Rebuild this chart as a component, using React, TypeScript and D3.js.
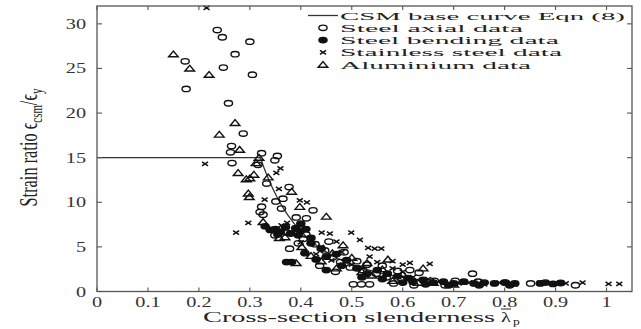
import * as d3 from "d3";

// values, [slenderness, strain ratio]
const steelAxial: [number, number][] = [
  [0.236, 29.3], [0.246, 28.5], [0.3, 28.0], [0.271, 26.6], [0.173, 25.8], [0.248, 25.1],
  [0.305, 24.3], [0.175, 22.7], [0.258, 21.1], [0.287, 17.7], [0.264, 16.3], [0.262, 15.6],
  [0.323, 15.5], [0.354, 15.2], [0.349, 14.7], [0.265, 14.4], [0.316, 14.2], [0.333, 12.1],
  [0.377, 11.7], [0.351, 10.1], [0.365, 10.4], [0.323, 9.5], [0.32, 8.9], [0.326, 8.6],
  [0.362, 9.3], [0.424, 9.1], [0.391, 8.3], [0.411, 8.2], [0.349, 6.3], [0.372, 6.6],
  [0.378, 4.8], [0.405, 5.9], [0.428, 5.3], [0.447, 4.6], [0.462, 3.8], [0.478, 3.3],
  [0.497, 2.7], [0.437, 2.9], [0.468, 2.2], [0.521, 2.4], [0.548, 2.0], [0.568, 1.6],
  [0.598, 1.4], [0.503, 0.8], [0.519, 0.8], [0.535, 0.8], [0.614, 2.4], [0.632, 2.1],
  [0.662, 1.2], [0.737, 2.0], [0.703, 1.2], [0.748, 1.1], [0.802, 1.0], [0.851, 0.9],
  [0.939, 0.7], [0.582, 0.9], [0.622, 0.7], [0.683, 0.7], [0.41, 6.4], [0.395, 5.4],
  [0.455, 5.6], [0.485, 4.4], [0.51, 3.4], [0.53, 3.0], [0.56, 2.9], [0.59, 2.3],
];

const steelBending: [number, number][] = [
  [0.34, 6.9], [0.35, 7.0], [0.36, 6.7], [0.37, 7.2], [0.38, 6.5], [0.39, 7.1], [0.4, 6.8],
  [0.41, 7.0], [0.355, 6.4], [0.395, 6.3], [0.382, 3.3], [0.372, 3.3], [0.408, 4.3],
  [0.42, 5.4], [0.44, 4.8], [0.45, 3.9], [0.47, 4.2], [0.43, 3.6], [0.48, 2.9], [0.49, 3.5],
  [0.51, 2.6], [0.53, 2.0], [0.55, 2.4], [0.57, 2.0], [0.59, 1.7], [0.61, 1.5], [0.62, 1.1],
  [0.64, 1.3], [0.66, 1.0], [0.68, 1.1], [0.7, 0.9], [0.72, 1.1], [0.74, 0.9], [0.76, 1.0],
  [0.78, 0.9], [0.8, 1.0], [0.82, 0.9], [0.87, 0.9], [0.88, 1.0], [0.895, 0.85], [0.91, 0.95],
  [0.6, 1.0], [0.56, 1.4], [0.52, 1.6], [0.45, 2.4], [0.42, 6.0], [0.4, 7.6], [0.33, 7.3],
  [0.645, 0.8], [0.69, 0.7], [0.75, 0.7], [0.81, 0.7],
];

const stainless: [number, number][] = [
  [0.215, 31.8], [0.212, 14.3], [0.273, 6.6], [0.297, 7.7], [0.329, 10.3], [0.352, 13.3],
  [0.357, 11.5], [0.373, 7.7], [0.398, 10.2], [0.412, 10.0], [0.441, 6.6], [0.457, 6.5],
  [0.499, 6.6], [0.516, 5.8], [0.532, 4.9], [0.545, 4.8], [0.558, 4.8], [0.535, 3.9],
  [0.614, 3.2], [0.653, 3.1], [0.36, 13.8], [0.4, 5.5], [0.43, 4.2], [0.46, 3.5], [0.48, 4.4],
  [0.5, 3.0], [0.52, 2.7], [0.55, 3.3], [0.58, 2.6], [0.6, 2.2], [0.62, 1.6], [0.65, 1.4],
  [0.68, 1.0], [0.71, 0.9], [0.73, 1.0], [0.76, 0.8], [0.79, 1.0], [0.82, 0.8], [0.87, 1.0],
  [0.9, 0.9], [0.92, 0.9], [0.953, 1.0], [1.004, 0.85], [1.025, 0.85], [0.47, 5.6],
  [0.44, 5.0], [0.362, 7.4], [0.39, 6.8], [0.58, 3.4], [0.6, 3.0],
];

const aluminium: [number, number][] = [
  [0.15, 26.6], [0.182, 25.0], [0.22, 24.3], [0.271, 18.9], [0.24, 17.6], [0.28, 15.9],
  [0.312, 14.4], [0.277, 13.3], [0.293, 12.6], [0.3, 12.7], [0.308, 13.1], [0.336, 12.8],
  [0.382, 11.2], [0.297, 11.0], [0.299, 10.6], [0.398, 9.5], [0.45, 8.4], [0.326, 7.8],
  [0.369, 6.1], [0.391, 3.2], [0.483, 5.2], [0.571, 3.6], [0.358, 6.0], [0.402, 5.0],
  [0.42, 4.0], [0.44, 3.4], [0.462, 4.3], [0.5, 3.8], [0.52, 2.2], [0.54, 1.8], [0.56, 2.5],
  [0.58, 1.2], [0.6, 1.9], [0.63, 1.0], [0.66, 1.0], [0.7, 0.8], [0.64, 2.6], [0.318, 15.0],
  [0.53, 3.2], [0.47, 2.6],
];

const xTicks = [0, 0.1, 0.2, 0.3, 0.4, 0.5, 0.6, 0.7, 0.8, 0.9, 1];
const xTickLabels = ["0", "0.1", "0.2", "0.3", "0.4", "0.5", "0.6", "0.7", "0.8", "0.9", "1"];
const yTicks = [0, 5, 10, 15, 20, 25, 30];
const legendLabels = [
  "CSM base curve Eqn (8)",
  "Steel axial data",
  "Steel bending data",
  "Stainless steel data",
  "Aluminium data",
];

// CSM base curve: 0.25 / lambda^3.6, capped at 15, up to lambda 0.68
const curveLambdas = d3.range(0, 0.6801, 0.002);
const csm = (l: number) => (l <= 0 ? 15 : Math.min(15, 0.25 / Math.pow(l, 3.6)));

const W = 641;
const H = 329;
const left = 97, right = 632, top = 6, bottom = 291.5;
const sx = 1.35; // the picture is stretched sideways
const ink = "#111";
const font = "'Liberation Serif', 'DejaVu Serif', serif";

export default function App() {
  const x = d3.scaleLinear().domain([0, 1.05]).range([left, right]);
  const y = d3.scaleLinear().domain([0, 32]).range([bottom, top]);

  const line = d3
    .line<number>()
    .x((l) => x(l))
    .y((l) => y(csm(l)));

  const circle = (cx: number, cy: number, fill: string, k: string) => (
    <ellipse key={k} cx={cx} cy={cy} rx={4.1} ry={2.7} fill={fill} stroke={ink} strokeWidth={1.4} />
  );
  const cross = (cx: number, cy: number, k: string) => (
    <path
      key={k}
      d={`M${cx - 3},${cy - 2}L${cx + 3},${cy + 2}M${cx - 3},${cy + 2}L${cx + 3},${cy - 2}`}
      stroke={ink}
      strokeWidth={1.5}
    />
  );
  const tri = (cx: number, cy: number, k: string) => (
    <path
      key={k}
      d={`M${cx - 4.8},${cy + 2.6}L${cx},${cy - 3.2}L${cx + 4.8},${cy + 2.6}Z`}
      fill="none"
      stroke={ink}
      strokeWidth={1.4}
    />
  );

  const legendBase = [19.5, 31.8, 44.1, 56.4, 68.7];
  const legendY = legendBase.map((b) => b - 4);
  const legendWidths = [285, 183, 219, 222, 191];

  return (
    <svg
      width={W}
      height={H}
      style={{ position: "absolute", left: 0, top: 0, background: "#fff" }}
      fontFamily={font}
    >
      <rect width={W} height={H} fill="#fff" />

      {/* base curve */}
      <path d={line(curveLambdas) || ""} fill="none" stroke="#333" strokeWidth={1.3} />

      {/* data */}
      <g>
        {steelAxial.map((d, i) => circle(x(d[0]), y(d[1]), "none", "a" + i))}
        {steelBending.map((d, i) => circle(x(d[0]), y(d[1]), ink, "b" + i))}
        {stainless.map((d, i) => cross(x(d[0]), y(d[1]), "s" + i))}
        {aluminium.map((d, i) => tri(x(d[0]), y(d[1]), "t" + i))}
      </g>

      {/* frame and inward ticks */}
      <rect x={left} y={top} width={right - left} height={bottom - top} fill="none" stroke="#555" strokeWidth={1.3} />
      {xTicks.map((t) => (
        <g key={"xt" + t} stroke="#555" strokeWidth={1.1}>
          <line x1={x(t)} x2={x(t)} y1={bottom} y2={bottom - 4} />
          <line x1={x(t)} x2={x(t)} y1={top} y2={top + 4} />
        </g>
      ))}
      {yTicks.map((t) => (
        <g key={"yt" + t} stroke="#555" strokeWidth={1.1}>
          <line x1={left} x2={left + 5} y1={y(t)} y2={y(t)} />
          <line x1={right} x2={right - 5} y1={y(t)} y2={y(t)} />
        </g>
      ))}

      {/* tick labels */}
      {xTicks.map((t, i) => (
        <text
          key={"xl" + t}
          transform={`translate(${x(t)},${306.5}) scale(${sx},1)`}
          textAnchor="middle"
          fontSize={15}
          fill="#333"
        >
          {xTickLabels[i]}
        </text>
      ))}
      {yTicks.map((t) => (
        <text
          key={"yl" + t}
          transform={`translate(${86},${y(t) + 5}) scale(${sx},1)`}
          textAnchor="end"
          fontSize={15}
          fill="#333"
        >
          {t}
        </text>
      ))}

      {/* axis titles */}
      <text
        x={203}
        y={322}
        fontSize={15}
        fill="#222"
        textLength={292}
        lengthAdjust="spacingAndGlyphs"
      >
        Cross-section slenderness
      </text>
      <text transform={`translate(501,322) scale(${sx},1)`} fontSize={15} fill="#222">
        λ
      </text>
      <line x1={501} x2={511} y1={309} y2={309} stroke="#222" strokeWidth={1} />
      <text transform={`translate(513,325) scale(${sx},1)`} fontSize={10} fill="#222">
        p
      </text>
      <text
        transform={`translate(37,${206.5}) scale(1.7,1) rotate(-90)`}
        fontSize={15}
        fill="#222"
        textLength={118}
        lengthAdjust="spacingAndGlyphs"
      >
        Strain ratio ϵ<tspan fontSize={10} dy={3}>csm</tspan>
        <tspan dy={-3}>/ϵ</tspan>
        <tspan fontSize={10} dy={3}>y</tspan>
      </text>

      {/* legend */}
      <g>
        <line x1={308} x2={338} y1={legendY[0]} y2={legendY[0]} stroke="#333" strokeWidth={1.3} />
        {circle(323, legendY[1], "none", "la")}
        {circle(323, legendY[2], ink, "lb")}
        {cross(323, legendY[3], "ls")}
        {tri(323, legendY[4], "lt")}
        {legendLabels.map((s, i) => (
          <text
            key={s}
            x={340}
            y={legendBase[i]}
            fontSize={11}
            fill="#222"
            textLength={legendWidths[i]}
            lengthAdjust="spacingAndGlyphs"
          >
            {s}
          </text>
        ))}
      </g>
    </svg>
  );
}
